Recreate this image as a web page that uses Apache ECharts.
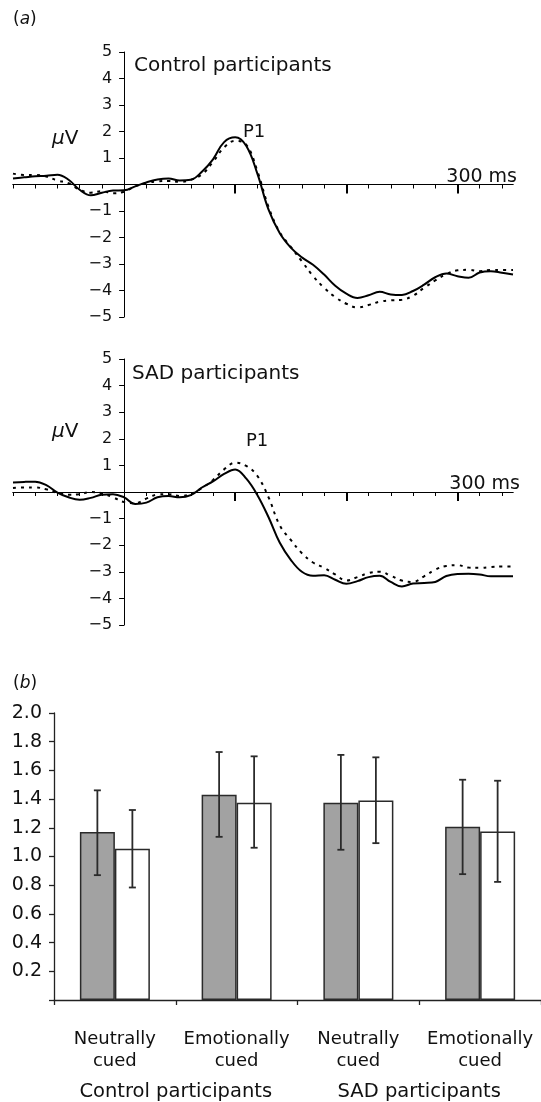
<!DOCTYPE html>
<html>
<head>
<meta charset="utf-8">
<script src="https://cdn.jsdelivr.net/npm/echarts@6/dist/echarts.min.js"></script>
<style>
html,body{margin:0;padding:0;background:#fff;}
#chart{width:541px;height:1102px;}
</style>
</head>
<body>
<div id="chart"></div>
<script>
// ---------- data ----------
var times = [-100,-90,-80,-70,-60,-50,-40,-30,-20,-10,0,10,20,30,40,50,60,70,80,90,100,110,120,130,140,150,160,170,180,190,200,210,220,230,240,250,260,270,280,290,300,310,320,330,340,350];
var controlSolid = [0.23,0.27,0.31,0.33,0.37,0.18,-0.2,-0.41,-0.31,-0.23, -0.22,-0.07,0.08,0.19,0.23,0.15,0.18,0.48,0.95,1.6, 1.78,1.45,0.4,-0.95,-1.83,-2.38,-2.75,-3.03,-3.4,-3.82, -4.12,-4.28,-4.18,-4.05,-4.15,-4.17,-4.02,-3.78,-3.5,-3.36, -3.46,-3.52,-3.32,-3.27,-3.33,-3.4];
var controlDashed = [0.41,0.36,0.36,0.3,0.15,0.05,-0.2,-0.31,-0.25,-0.33, -0.27,-0.07,0.05,0.12,0.13,0.1,0.18,0.38,0.85,1.4, 1.65,1.5,0.5,-0.85,-1.8,-2.35,-2.9,-3.45,-3.9,-4.25, -4.5,-4.64,-4.55,-4.42,-4.37,-4.35,-4.2,-3.9,-3.62,-3.38, -3.24,-3.22,-3.27,-3.23,-3.23,-3.23];
var sadSolid = [0.36,0.38,0.39,0.26,-0.02,-0.2,-0.29,-0.22,-0.1,-0.08, -0.2,-0.45,-0.4,-0.2,-0.15,-0.2,-0.12,0.17,0.4,0.68, 0.85,0.5,-0.12,-0.95,-1.9,-2.55,-3.0,-3.15,-3.13,-3.3, -3.45,-3.35,-3.2,-3.15,-3.38,-3.55,-3.44,-3.42,-3.38,-3.16, -3.08,-3.07,-3.1,-3.17,-3.17,-3.17];
var sadDashed = [0.15,0.17,0.17,0.1,-0.03,-0.1,-0.08,0.0,-0.05,-0.2, -0.38,-0.42,-0.25,-0.1,-0.08,-0.15,-0.08,0.15,0.45,0.85, 1.1,0.98,0.6,-0.2,-1.25,-1.8,-2.3,-2.65,-2.85,-3.1, -3.33,-3.2,-3.05,-3.0,-3.15,-3.33,-3.38,-3.17,-2.92,-2.78, -2.75,-2.84,-2.85,-2.82,-2.8,-2.8];

var minorTickValues = [-100,-80,-60,-40,-20,0,20,40,60,80,100,120,140,160,180,200,220,240,260,280,300,320,340];
var majorTickValues = [100,200,300];
var timeLabel = '300 ms';
var yTickValues = [5,4,3,2,1,0,-1,-2,-3,-4,-5];
var yTickLabels = ['5','4','3','2','1','','\u22121','\u22122','\u22123','\u22124','\u22125'];

var barCategories = ['Neutrally\ncued','Emotionally\ncued','Neutrally\ncued','Emotionally\ncued'];
var groupCategories = ['Control participants','SAD participants'];
var grayValues = [1.17,1.43,1.375,1.207];
var whiteValues = [1.054,1.375,1.391,1.174];
var grayErrLow = [0.87,1.137,1.047,0.877];
var grayErrHigh = [1.461,1.728,1.708,1.535];
var whiteErrLow = [0.784,1.061,1.093,0.823];
var whiteErrHigh = [1.324,1.698,1.691,1.528];

// ---------- layout / styles ----------
var FONT = 'DejaVu Sans';
var BAR_W = 35;
var T_MIN = -100, T_MAX = 350;
var WAVE_LEFT = 13, WAVE_W = 500;
// y axis sits at t = 0: shift it from the grid's left edge by the scale position of 0
var Y_OFFSET = -(0 - T_MIN) / (T_MAX - T_MIN) * WAVE_W;

function pairs(ys){ return times.map(function(t,i){ return [t, ys[i]]; }); }
function yLabel(v){ var i = yTickValues.indexOf(v); return i >= 0 ? yTickLabels[i] : ''; }

function waveX(idx, onZeroY, major, nameGap){
  return {
    type:'value', gridIndex: idx, min:T_MIN, max:T_MAX, position:'bottom',
    axisLine:{show:true, onZero:true, onZeroAxisIndex:onZeroY, lineStyle:{color:'#000', width:1}},
    axisTick:{show:true, customValues: major ? majorTickValues : minorTickValues, length: major ? 9 : 4, lineStyle:{color:'#000', width: major ? 2 : 1}},
    axisLabel:{show:false}, splitLine:{show:false},
    name: major ? '' : timeLabel, nameLocation:'end', nameGap: nameGap,
    nameTextStyle:{fontFamily:FONT, fontSize:19, color:'#111', align:'right', verticalAlign:'bottom', padding:[0,0,-2,0]}
  };
}
function waveY(idx, hidden){
  return {
    type:'value', gridIndex: idx, min:-5, max:5, interval:1, show: !hidden,
    position:'left', offset: hidden ? 0 : Y_OFFSET,
    axisLine:{show:true, onZero:false, lineStyle:{color:'#000', width:1}},
    axisTick:{show:true, length:5, lineStyle:{color:'#000'}},
    axisLabel:{show:true, margin:12, fontFamily:FONT, fontSize:16, color:'#111', formatter: yLabel},
    splitLine:{show:false}
  };
}

var errData = [];
for (var i = 0; i < barCategories.length; i++) {
  errData.push([i, grayErrLow[i], grayErrHigh[i], -1]);
  errData.push([i, whiteErrLow[i], whiteErrHigh[i], 1]);
}

var chart = echarts.init(document.getElementById('chart'), null, {renderer:'canvas'});
chart.setOption({
  animation:false,
  backgroundColor:'#fff',
  grid:[
    {left:WAVE_LEFT, width:WAVE_W, top:52, height:265, containLabel:false, outerBoundsMode:'none'},
    {left:WAVE_LEFT, width:WAVE_W, top:359, height:266, containLabel:false, outerBoundsMode:'none'},
    {left:54, right:0, top:713, height:287, containLabel:false, outerBoundsMode:'none'}
  ],
  xAxis:[
    waveX(0, 1, false, 4),
    waveX(0, 1, true, 0),
    waveX(1, 3, false, 7),
    waveX(1, 3, true, 0),
    {type:'category', gridIndex:2, data:barCategories, position:'bottom',
     axisLine:{show:true, onZero:false, lineStyle:{color:'#222', width:1.3}},
     axisTick:{show:true, length:5, lineStyle:{color:'#222', width:1.3}},
     axisLabel:{interval:0, margin:28, fontFamily:FONT, fontSize:18, lineHeight:22, color:'#111', hideOverlap:false}},
    {type:'category', gridIndex:2, data:groupCategories, position:'bottom',
     axisLine:{show:false, onZero:false}, axisTick:{show:false},
     axisLabel:{interval:0, margin:82, fontFamily:FONT, fontSize:19.5, color:'#111', hideOverlap:false}}
  ],
  yAxis:[
    waveY(0, false), waveY(0, true), waveY(1, false), waveY(1, true),
    {type:'value', gridIndex:2, min:0, max:2, interval:0.2,
     axisLine:{show:true, lineStyle:{color:'#222', width:1.3}},
     axisTick:{show:true, length:5, lineStyle:{color:'#222', width:1.3}},
     axisLabel:{margin:12, fontFamily:FONT, fontSize:19, color:'#111',
       formatter:function(v){ return v === 0 ? '' : v.toFixed(1); }},
     splitLine:{show:false}}
  ],
  series:[
    {type:'line', xAxisIndex:0, yAxisIndex:0, data:pairs(controlDashed), smooth:0.4, showSymbol:false,
     lineStyle:{color:'#000', width:2, type:[3,5]}},
    {type:'line', xAxisIndex:0, yAxisIndex:0, data:pairs(controlSolid), smooth:0.4, showSymbol:false,
     lineStyle:{color:'#000', width:2}},
    {type:'line', xAxisIndex:2, yAxisIndex:2, data:pairs(sadDashed), smooth:0.4, showSymbol:false,
     lineStyle:{color:'#000', width:2, type:[3,5]}},
    {type:'line', xAxisIndex:2, yAxisIndex:2, data:pairs(sadSolid), smooth:0.4, showSymbol:false,
     lineStyle:{color:'#000', width:2}},
    {type:'bar', xAxisIndex:4, yAxisIndex:4, data:grayValues, barWidth:BAR_W, barGap:'0%',
     itemStyle:{color:'#a2a2a2', borderColor:'#2a2a2a', borderWidth:1.5}},
    {type:'bar', xAxisIndex:4, yAxisIndex:4, data:whiteValues, barWidth:BAR_W, barGap:'0%',
     itemStyle:{color:'#ffffff', borderColor:'#2a2a2a', borderWidth:1.5}},
    {type:'custom', xAxisIndex:4, yAxisIndex:4, data:errData, z:5,
     renderItem:function(params, api){
       var c = api.value(0), side = api.value(3);
       var lo = api.coord([c, api.value(1)]);
       var hi = api.coord([c, api.value(2)]);
       var x = lo[0] + side * BAR_W / 2;
       var cap = 3.5;
       var st = {stroke:'#2a2a2a', lineWidth:1.8};
       return {type:'group', children:[
         {type:'line', shape:{x1:x, y1:hi[1], x2:x, y2:lo[1]}, style:st},
         {type:'line', shape:{x1:x-cap, y1:hi[1], x2:x+cap, y2:hi[1]}, style:st},
         {type:'line', shape:{x1:x-cap, y1:lo[1], x2:x+cap, y2:lo[1]}, style:st}
       ]};
     }}
  ],
  graphic:[
    {type:'text', x:13, y:20, style:{text:'({i|a})', rich:{i:{fontStyle:'italic', fontFamily:FONT, fontSize:17, fill:'#111'}}, fontFamily:FONT, fontSize:17, fill:'#111', verticalAlign:'middle'}},
    {type:'text', x:134, y:66, style:{text:'Control participants', fontFamily:FONT, fontSize:20, fill:'#111', verticalAlign:'middle'}},
    {type:'text', x:52, y:139, style:{text:'{i|\u03bc}V', rich:{i:{fontStyle:'italic', fontFamily:FONT, fontSize:20, fill:'#111'}}, fontFamily:FONT, fontSize:20, fill:'#111', verticalAlign:'middle'}},
    {type:'text', x:243, y:132, style:{text:'P1', fontFamily:FONT, fontSize:18, fill:'#111', verticalAlign:'middle'}},
    {type:'text', x:132, y:374, style:{text:'SAD participants', fontFamily:FONT, fontSize:20, fill:'#111', verticalAlign:'middle'}},
    {type:'text', x:52, y:432, style:{text:'{i|\u03bc}V', rich:{i:{fontStyle:'italic', fontFamily:FONT, fontSize:20, fill:'#111'}}, fontFamily:FONT, fontSize:20, fill:'#111', verticalAlign:'middle'}},
    {type:'text', x:246, y:441, style:{text:'P1', fontFamily:FONT, fontSize:18, fill:'#111', verticalAlign:'middle'}},
    {type:'text', x:13, y:684, style:{text:'({i|b})', rich:{i:{fontStyle:'italic', fontFamily:FONT, fontSize:17, fill:'#111'}}, fontFamily:FONT, fontSize:17, fill:'#111', verticalAlign:'middle'}}
  ]
});
</script>
</body>
</html>
